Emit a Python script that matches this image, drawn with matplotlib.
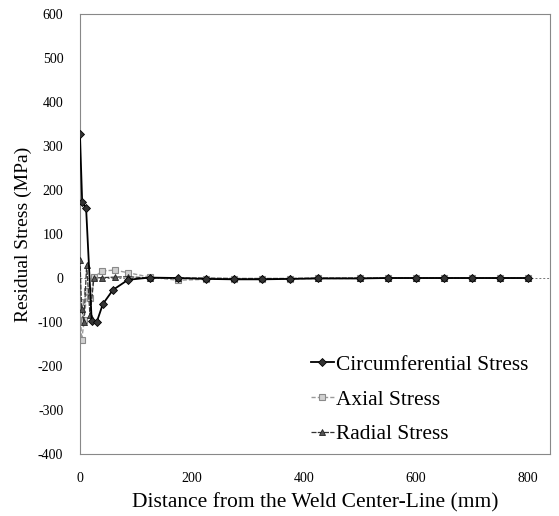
import matplotlib
matplotlib.use("Agg")
import matplotlib.pyplot as plt

# ── Data ──────────────────────────────────────────────────────────────────────
circ_x = [0, 4, 11, 21, 30, 41, 59, 86, 125, 175, 225, 275, 325, 375, 425,
          500, 550, 600, 650, 700, 750, 800]
circ_y = [327, 173, 159, -97, -100, -59, -27, -4, 1, 0, -2, -3, -3, -2, -1,
          -1, 0, 0, 0, 0, 0, 0]

axial_x = [0, 3, 8, 12, 18, 25, 40, 62, 86, 125, 175, 225, 275, 325, 375, 425,
           500, 550, 600, 650, 700, 750, 800]
axial_y = [-55, -140, -95, -30, -45, 2, 16, 18, 12, 2, -5, -3, -2, -2, -2, -1,
           -1, 0, 0, 0, 0, 0, 0]

radial_x = [0, 3, 7, 12, 18, 25, 40, 62, 86, 125, 175, 225, 275, 325, 375, 425,
            500, 550, 600, 650, 700, 750, 800]
radial_y = [42, -70, -100, 30, -85, 0, 1, 2, 3, 0, 0, 0, -1, -1, -1, 0,
            0, 0, 0, 0, 0, 0, 0]

x_ticks = [0, 200, 400, 600, 800]
y_ticks = [-400, -300, -200, -100, 0, 100, 200, 300, 400, 500, 600]

plt.rcParams["font.family"] = ["Liberation Serif", "DejaVu Serif"]
plt.rcParams["axes.unicode_minus"] = False

fig = plt.figure(figsize=(5.59, 5.16), dpi=100)
ax = fig.add_axes([0.143, 0.120, 0.841, 0.853])

ax.plot(axial_x, axial_y, color="#9a9a9a", lw=1.0, ls=(0, (3, 1.5)),
        marker="s", ms=4.5, mfc="#d0d0d0", mec="#8a8a8a", mew=0.8,
        label="Axial Stress", zorder=2)
ax.plot(radial_x, radial_y, color="#333333", lw=0.9, ls=(0, (4, 1)),
        marker="^", ms=4.5, mfc="#555555", mec="#222222", mew=0.6,
        label="Radial Stress", zorder=3)
ax.plot(circ_x, circ_y, color="black", lw=1.3,
        marker="D", ms=4, mfc="#333333", mec="black", mew=0.6,
        label="Circumferential Stress", zorder=4)

ax.axhline(0, color="#777777", lw=0.7, ls=(0, (2, 2)), zorder=1)

ax.set_xlim(0, 840)
ax.set_ylim(-400, 600)
ax.set_xticks(x_ticks)
ax.set_yticks(y_ticks)
ax.tick_params(length=0, labelsize=10, pad=13)
ax.tick_params(axis="y", pad=12)
for s in ax.spines.values():
    s.set_color("#888888")
    s.set_linewidth(0.8)

ax.set_xlabel("Distance from the Weld Center-Line (mm)", fontsize=15.5, labelpad=6)
ax.set_ylabel("Residual Stress (MPa)", fontsize=14, labelpad=4)

handles, labels = ax.get_legend_handles_labels()
order = [2, 0, 1]
ax.legend([handles[i] for i in order], [labels[i] for i in order],
          loc="lower right", bbox_to_anchor=(0.975, 0.0), frameon=False,
          fontsize=15.4, handlelength=1.1, handletextpad=0.1,
          labelspacing=0.7, borderaxespad=0.05)

fig.savefig("out.png", dpi=100)
